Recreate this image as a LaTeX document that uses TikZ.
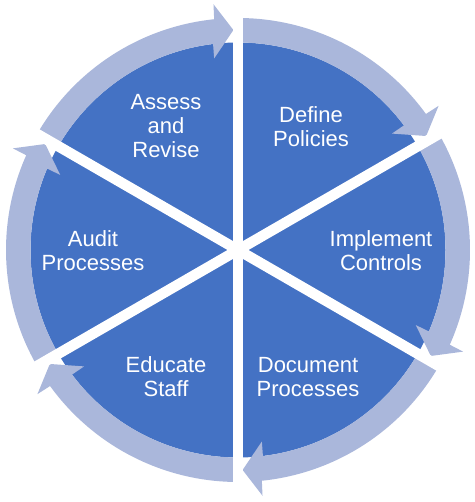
\documentclass[tikz,border=0pt]{standalone}
\usepackage{fontspec}
\setmainfont{Liberation Sans}
\definecolor{wedgeblue}{RGB}{68,114,196}
\definecolor{bandblue}{RGB}{170,183,219}
\begin{document}
\begin{tikzpicture}[x=1pt,y=1pt,
  wedge/.style={fill=wedgeblue},
  band/.style={fill=bandblue},
  gapline/.style={draw=white,line width=10.5pt},
  txt/.style={text=white,font=\fontsize{22}{24}\selectfont,align=center,anchor=base,inner sep=0pt}]
\useasboundingbox (0,0) rectangle (474,502);
\begin{scope}[shift={(238,252)}]
  \coordinate (c) at (0,0);
  \foreach \s/\e in {90/30,30/-30,-30/-90,-90/-150,-150/-210,150/90}{
    \fill[wedge] (c) -- (\s:207.5) arc[start angle=\s,end angle=\e,radius=207.5] -- cycle;
  }
  \foreach \s/\e in {90/30,30/-30,-30/-90,-90/-150,-150/-210,150/90}{
    \fill[band] (\s:232) arc[start angle=\s,end angle=\e+5.9,radius=232]
      -- (\e+5.7:247) -- (\e+1.2:220) -- (\e+7.1:193) -- (\e+6.9:207.5)
      arc[start angle=\e+6.9,end angle=\s,radius=207.5] -- cycle;
  }
  \foreach \a in {90,30,-30,-90,-150,150}{
    \draw[gapline] (c) -- (\a:252);
  }
\end{scope}
\node[txt] (assess) at (166,344.7) {Assess\\and\\Revise};
\node[txt] (define) at (311,355.8) {Define\\Policies};
\node[txt] (implement) at (381,231.7) {Implement\\Controls};
\node[txt] (audit) at (93,231.7) {Audit\\Processes};
\node[txt] (educate) at (166,105.8) {Educate\\Staff};
\node[txt] (document) at (308,105.8) {Document\\Processes};
\end{tikzpicture}
\end{document}
